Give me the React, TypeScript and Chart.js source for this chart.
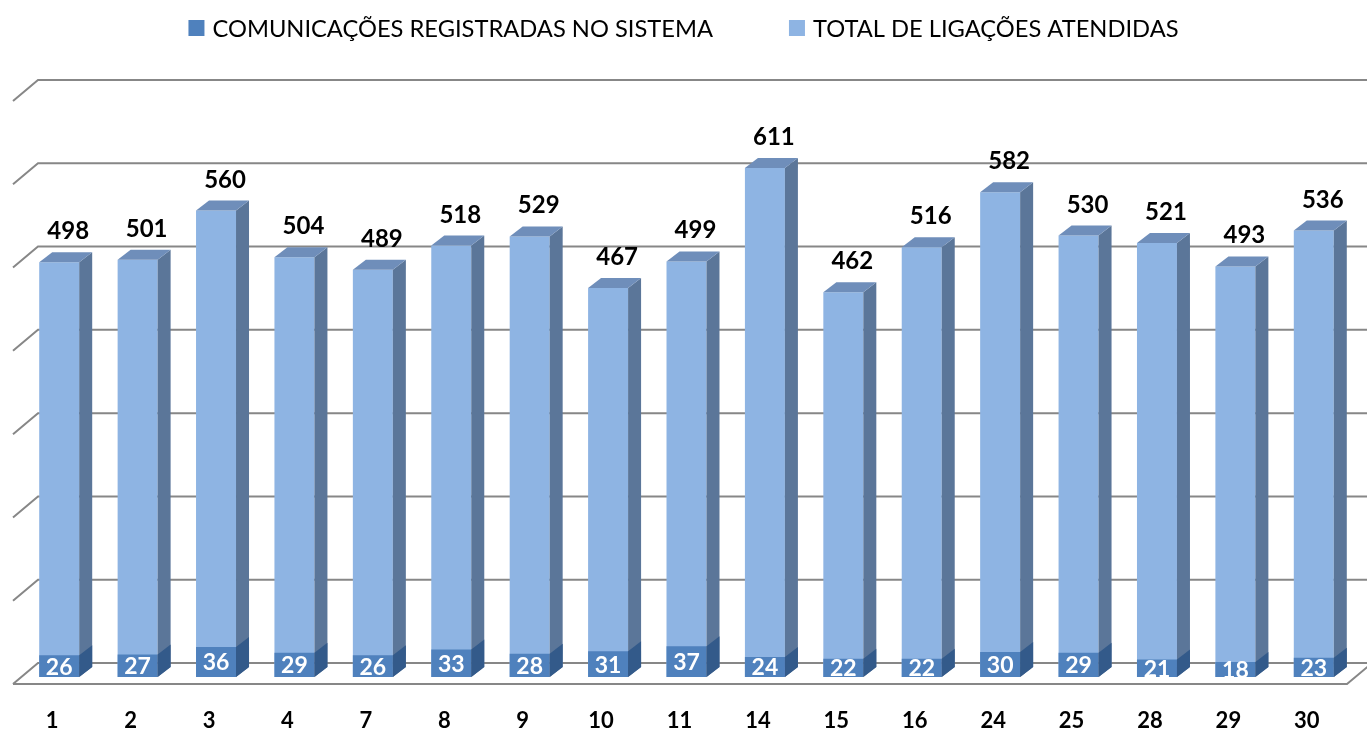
import React, { useEffect, useRef } from "react";
import { Chart, registerables } from "chart.js";

Chart.register(...registerables);

const categories = ["1", "2", "3", "4", "7", "8", "9", "10", "11", "14", "15", "16", "24", "25", "28", "29", "30"];
const comunicacoes = [26, 27, 36, 29, 26, 33, 28, 31, 37, 24, 22, 22, 30, 29, 21, 18, 23];
const totalLigacoes = [498, 501, 560, 504, 489, 518, 529, 467, 499, 611, 462, 516, 582, 530, 521, 493, 536];
const seriesNames = ["COMUNICAÇÕES REGISTRADAS NO SISTEMA", "TOTAL DE LIGAÇÕES ATENDIDAS"];

const FONT = "Lato, 'Open Sans', sans-serif";
const DARK_FRONT = "#4F81BD";
const DARK_SIDE = "#335A8A";
const LIGHT_FRONT = "#8EB4E3";
const LIGHT_SIDE = "#5B7699";
const LIGHT_TOP = "#6F8EBA";
const GRID = "#878787";
const DX = 13;
const DY = 10;

const gridPlugin = {
  id: "grid3d",
  beforeDatasetsDraw(chart: any) {
    const { ctx, chartArea, scales } = chart;
    const y = scales.y;
    const left = chartArea.left;
    const W = chart.width;
    ctx.save();
    ctx.strokeStyle = GRID;
    ctx.lineWidth = 2;
    const ticks = y.ticks || [];
    ticks.forEach((t: any) => {
      const py = y.getPixelForValue(t.value);
      ctx.beginPath();
      ctx.moveTo(left - 7, py + 7);
      ctx.lineTo(left + 18, py - 14);
      ctx.lineTo(W + 5, py - 14);
      ctx.stroke();
    });
    const y0 = y.getPixelForValue(0);
    ctx.beginPath();
    ctx.moveTo(left - 7, y0 + 7);
    ctx.lineTo(chartArea.right - 6, y0 + 7);
    ctx.lineTo(chartArea.right - 6 + 25, y0 + 7 - 21);
    ctx.stroke();
    ctx.restore();
  },
};

const barsPlugin = {
  id: "bars3d",
  afterDatasetsDraw(chart: any) {
    const { ctx } = chart;
    const draw = (dsIndex: number, side: string, top: string | null) => {
      const meta = chart.getDatasetMeta(dsIndex);
      meta.data.forEach((bar: any) => {
        const p = bar.getProps(["x", "y", "base", "width"], true);
        const l = p.x - p.width / 2;
        const r = p.x + p.width / 2;
        ctx.fillStyle = side;
        ctx.beginPath();
        ctx.moveTo(r, p.base);
        ctx.lineTo(r, p.y);
        ctx.lineTo(r + DX, p.y - DY);
        ctx.lineTo(r + DX, p.base - DY);
        ctx.closePath();
        ctx.fill();
        if (top) {
          ctx.fillStyle = top;
          ctx.beginPath();
          ctx.moveTo(l, p.y);
          ctx.lineTo(l + DX, p.y - DY);
          ctx.lineTo(r + DX, p.y - DY);
          ctx.lineTo(r, p.y);
          ctx.closePath();
          ctx.fill();
        }
      });
    };
    ctx.save();
    draw(1, LIGHT_SIDE, LIGHT_TOP);
    draw(0, DARK_SIDE, null);
    ctx.textAlign = "center";
    const lightMeta = chart.getDatasetMeta(1);
    ctx.font = `bold 24px ${FONT}`;
    ctx.fillStyle = "#000";
    ctx.textBaseline = "alphabetic";
    lightMeta.data.forEach((bar: any, i: number) => {
      const p = bar.getProps(["x", "y"], true);
      ctx.fillText(String(chart.data.datasets[1].data[i]), p.x + 9, p.y - 23);
    });
    const darkMeta = chart.getDatasetMeta(0);
    ctx.font = `bold 23px ${FONT}`;
    ctx.fillStyle = "#fff";
    ctx.textBaseline = "middle";
    darkMeta.data.forEach((bar: any, i: number) => {
      const p = bar.getProps(["x", "y", "base"], true);
      ctx.fillText(String(chart.data.datasets[0].data[i]), p.x, (p.y + p.base) / 2 + 1);
    });
    const xs = chart.scales.x;
    ctx.font = `bold 22px ${FONT}`;
    ctx.fillStyle = "#000";
    ctx.textBaseline = "middle";
    chart.data.labels.forEach((lab: string, i: number) => {
      ctx.fillText(lab, xs.getPixelForTick(i) - 7, chart.chartArea.bottom + 44);
    });
    ctx.restore();
  },
};

const legendPlugin = {
  id: "legendCustom",
  afterDraw(chart: any) {
    const { ctx } = chart;
    ctx.save();
    ctx.font = `23.7px ${FONT}`;
    const box = 16;
    const gapText = 8;
    const gapItems = 76;
    const items = chart.data.datasets.map((d: any) => ({
      label: d.label,
      color: d.backgroundColor,
      w: ctx.measureText(d.label).width,
    }));
    const total = items.reduce((s: number, it: any) => s + box + gapText + it.w, 0) + gapItems * (items.length - 1);
    let x = (chart.width - total) / 2;
    const cy = 28;
    ctx.textBaseline = "middle";
    ctx.textAlign = "left";
    items.forEach((it: any) => {
      ctx.fillStyle = it.color;
      ctx.fillRect(x, cy - box / 2, box, box);
      ctx.fillStyle = "#000";
      ctx.fillText(it.label, x + box + gapText, cy + 1);
      x += box + gapText + it.w + gapItems;
    });
    ctx.restore();
  },
};

export default function App() {
  const ref = useRef<HTMLCanvasElement | null>(null);
  useEffect(() => {
    document.body.style.margin = "0";
    if (!ref.current) return;
    const chart = new Chart(ref.current, {
      type: "bar",
      data: {
        labels: categories,
        datasets: [
          {
            label: seriesNames[0],
            data: comunicacoes,
            backgroundColor: DARK_FRONT,
            grouped: false,
            order: 0,
            barPercentage: 0.51,
            categoryPercentage: 1,
          },
          {
            label: seriesNames[1],
            data: totalLigacoes,
            backgroundColor: LIGHT_FRONT,
            grouped: false,
            order: 1,
            barPercentage: 0.51,
            categoryPercentage: 1,
          },
        ],
      },
      options: {
        animation: false,
        responsive: true,
        maintainAspectRatio: false,
        layout: { padding: { left: 20, right: 14, top: 94, bottom: 52 } },
        plugins: { legend: { display: false }, tooltip: { enabled: false } },
        scales: {
          x: {
            grid: { display: false, drawTicks: false },
            border: { display: false },
            ticks: { display: false, autoSkip: false },
          },
          y: {
            min: 0,
            max: 700,
            grid: { display: false, drawTicks: false },
            border: { display: false },
            ticks: { display: false, stepSize: 100 },
          },
        },
      },
      plugins: [gridPlugin, barsPlugin, legendPlugin],
    });
    return () => chart.destroy();
  }, []);
  return (
    <div style={{ width: "1367px", height: "729px", position: "relative" }}>
      <canvas ref={ref} />
    </div>
  );
}
